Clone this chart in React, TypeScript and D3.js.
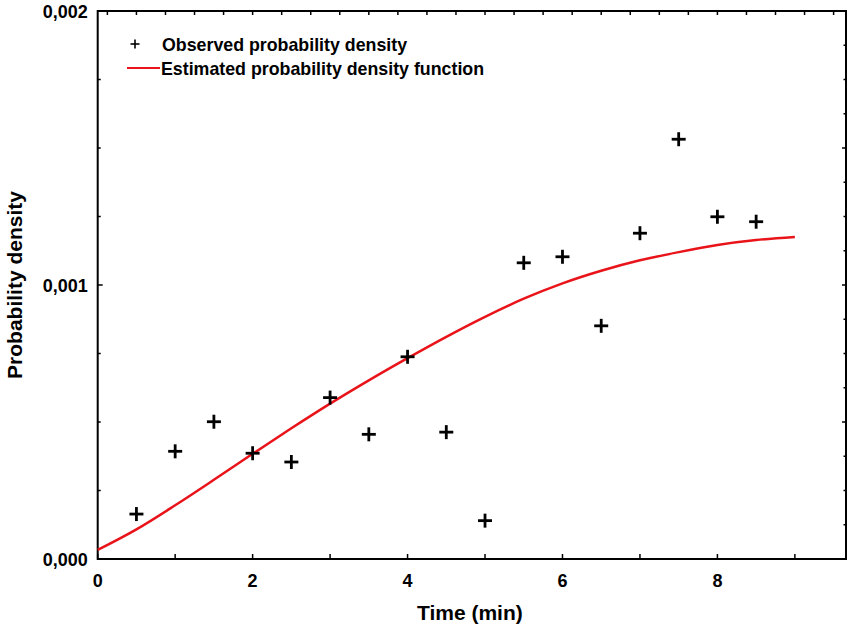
import React from 'react';
import * as d3 from 'd3';

// observed points (time in min, density)
const obsTime = [0.5, 1, 1.5, 2, 2.5, 3, 3.5, 4, 4.5, 5, 5.5, 6, 6.5, 7, 7.5, 8, 8.5];
const obsDensity = [
  0.000164, 0.000393, 0.000501, 0.000386, 0.000354, 0.000589, 0.000455, 0.000738, 0.000463,
  0.00014, 0.001081, 0.001103, 0.000851, 0.001189, 0.001532, 0.001249, 0.001231,
];

// estimated pdf curve
const fitTime = [0, 0.5, 1, 1.5, 2, 2.5, 3, 3.5, 4, 4.5, 5, 5.5, 6, 6.5, 7, 7.5, 8, 8.5, 9];
const fitDensity = [
  0.000033, 0.000108, 0.000196, 0.000289, 0.000384, 0.000477, 0.000567, 0.000652, 0.000733,
  0.000811, 0.000884, 0.00095, 0.001006, 0.001052, 0.00109, 0.00112, 0.001146, 0.001164, 0.001175,
];

const xTicks = [0, 2, 4, 6, 8];
const yTicks = [0, 0.001, 0.002];
const yTickLabels = ['0,000', '0,001', '0,002'];

const W = 850;
const H = 632;
const left = 97.7;
const right = 846;
const top = 11;
const bottom = 559;
const font = "'Liberation Sans', Arial, sans-serif";

export default function App() {
  const x = d3.scaleLinear().domain([0, 9.66]).range([left, right]);
  const y = d3.scaleLinear().domain([0, 0.002]).range([bottom, top]);

  const line = d3
    .line<number>()
    .x((_, i) => x(fitTime[i]))
    .y(d => y(d))
    .curve(d3.curveMonotoneX);

  const bottomMinor = d3.range(0, 10, 1);
  const topMinor = d3.range(0.125, 9.6, 0.375);
  const leftMinor = d3.range(0, 0.00201, 0.00025);
  const rightMinor = d3.range(0.000125, 0.002, 0.000125);

  const plus = (cx: number, cy: number, s: number, w: number, key: React.Key) => (
    <g key={key} stroke="#000" strokeWidth={w}>
      <line x1={cx - s} x2={cx + s} y1={cy} y2={cy} />
      <line x1={cx} x2={cx} y1={cy - s} y2={cy + s} />
    </g>
  );

  return (
    <div style={{ position: 'absolute', left: 0, top: 0 }}>
      <svg width={W} height={H} style={{ display: 'block', background: '#fff' }} fontFamily={font}>
        {/* frame */}
        <rect x={left} y={top} width={right - left} height={bottom - top} fill="none" stroke="#000" strokeWidth={2} />

        {/* ticks */}
        {bottomMinor.map(t => (
          <line key={'b' + t} x1={x(t)} x2={x(t)} y1={bottom} y2={bottom - 5} stroke="#000" strokeWidth={1.5} />
        ))}
        {topMinor.map(t => (
          <line key={'t' + t} x1={x(t)} x2={x(t)} y1={top} y2={top + 4} stroke="#000" strokeWidth={1.5} />
        ))}
        {leftMinor.map((t, i) => (
          <line
            key={'l' + t}
            x1={left}
            x2={left + (i % 4 === 0 ? 5 : 3)}
            y1={y(t)}
            y2={y(t)}
            stroke="#000"
            strokeWidth={1.5}
          />
        ))}
        {rightMinor.map((t, i) => (
          <line
            key={'r' + t}
            x1={right}
            x2={right - ((i + 1) % 4 === 0 ? 4 : 2.5)}
            y1={y(t)}
            y2={y(t)}
            stroke="#000"
            strokeWidth={1.5}
          />
        ))}

        {/* tick labels */}
        {xTicks.map(t => (
          <text key={'xl' + t} x={x(t)} y={bottom + 28} textAnchor="middle" fontSize={18} fontWeight="bold">
            {t}
          </text>
        ))}
        {yTicks.map((t, i) => (
          <text key={'yl' + t} x={left - 10} y={y(t) + 7} textAnchor="end" fontSize={18} fontWeight="bold">
            {yTickLabels[i]}
          </text>
        ))}

        {/* axis titles */}
        <text x={(left + right) / 2 - 2} y={620} textAnchor="middle" fontSize={21} fontWeight="bold">
          Time (min)
        </text>
        <text
          transform={`translate(22, ${(top + bottom) / 2}) rotate(-90)`}
          textAnchor="middle"
          fontSize={21}
          fontWeight="bold"
        >
          Probability density
        </text>

        {/* fitted curve */}
        <path d={line(fitDensity) ?? ''} fill="none" stroke="#e8141a" strokeWidth={2.5} />

        {/* observed points */}
        {obsDensity.map((d, i) => plus(x(obsTime[i]), y(d), 7, 2.8, 'p' + i))}

        {/* legend */}
        {plus(135, 44, 4.5, 1.6, 'lg')}
        <text x={162} y={51} fontSize={17.8} fontWeight="bold">
          Observed probability density
        </text>
        <line x1={127} x2={160} y1={68} y2={68} stroke="#e8141a" strokeWidth={2} />
        <text x={161} y={75} fontSize={17.8} fontWeight="bold">
          Estimated probability density function
        </text>
      </svg>
    </div>
  );
}
